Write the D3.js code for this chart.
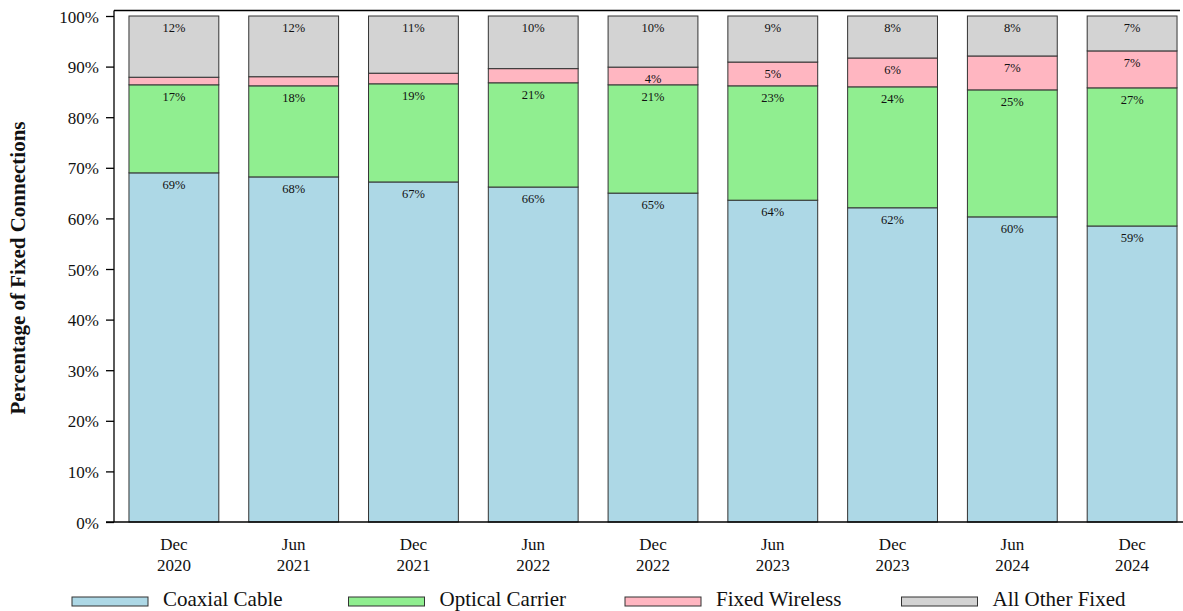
<!DOCTYPE html>
<html>
<head>
<meta charset="utf-8">
<script src="https://cdn.jsdelivr.net/npm/d3@7"></script>
<style>
  html, body { margin: 0; padding: 0; background: #fff; }
  svg { display: block; }
  text { font-family: "Liberation Serif", "Times New Roman", serif; fill: #111; }
</style>
</head>
<body>
<svg id="chart" width="1183" height="611"></svg>
<script>
const categories = ["Dec\n2020", "Jun\n2021", "Dec\n2021", "Jun\n2022", "Dec\n2022", "Jun\n2023", "Dec\n2023", "Jun\n2024", "Dec\n2024"];
const coaxialCable   = [69.0, 68.2, 67.2, 66.2, 65.0, 63.6, 62.1, 60.3, 58.5];
const opticalCarrier = [17.4, 18.0, 19.4, 20.6, 21.4, 22.6, 23.9, 25.1, 27.3];
const fixedWireless  = [1.5, 1.8, 2.1, 2.8, 3.5, 4.7, 5.7, 6.7, 7.3];
const allOtherFixed  = [12.1, 12.0, 11.3, 10.4, 10.1, 9.1, 8.3, 7.9, 6.9];
const seriesNames  = ["Coaxial Cable", "Optical Carrier", "Fixed Wireless", "All Other Fixed"];
const seriesColors = ["#add8e6", "#90ee90", "#ffb6c1", "#d3d3d3"];
const yTicks = [0, 10, 20, 30, 40, 50, 60, 70, 80, 90, 100];

const seriesValues = [coaxialCable, opticalCarrier, fixedWireless, allOtherFixed];
const table = categories.map((c, i) => {
  const row = { cat: c };
  seriesNames.forEach((s, k) => row[s] = seriesValues[k][i]);
  return row;
});

const svg = d3.select("#chart");
const x = d3.scaleBand().domain(categories).range([114, 1192]).paddingInner(0.25).paddingOuter(0.125);
const y = d3.scaleLinear().domain([0, 100]).range([522, 16]);
const color = d3.scaleOrdinal().domain(seriesNames).range(seriesColors);

const stack = d3.stack().keys(seriesNames);
const stacked = stack(table);

// frame top line
svg.append("line").attr("x1", 114).attr("x2", 1180).attr("y1", 10.5).attr("y2", 10.5)
  .attr("stroke", "#000").attr("stroke-width", 1.3);

// bars
const layers = svg.append("g").selectAll("g").data(stacked).join("g")
  .attr("fill", d => color(d.key));
layers.selectAll("rect").data(d => d).join("rect")
  .attr("x", d => x(d.data.cat))
  .attr("y", d => y(d[1]))
  .attr("width", x.bandwidth())
  .attr("height", d => y(d[0]) - y(d[1]))
  .attr("stroke", "#333").attr("stroke-width", 1);

// segment labels
layers.selectAll("text").data(d => d).join("text")
  .filter(d => (d[1] - d[0]) >= 3)
  .attr("x", d => x(d.data.cat) + x.bandwidth() / 2)
  .attr("y", d => y(d[1]) + 16)
  .attr("text-anchor", "middle")
  .attr("font-size", 12.5)
  .text(d => Math.round(d[1] - d[0]) + "%");

// y axis
const yAxis = d3.axisLeft(y).tickValues(yTicks).tickFormat(d => d + "%").tickSize(8).tickPadding(7);
const gy = svg.append("g").attr("transform", "translate(114,0)").call(yAxis);
gy.select(".domain").attr("d", "M0,10.5V522").attr("stroke", "#000").attr("stroke-width", 1.3);
gy.selectAll(".tick line").attr("stroke", "#000").attr("stroke-width", 1.3);
gy.selectAll(".tick text").attr("font-size", 17).attr("font-family", "Liberation Serif").attr("fill", "#111").attr("dy", "0.36em");

// x axis line
svg.append("line").attr("x1", 106).attr("x2", 1183).attr("y1", 522).attr("y2", 522)
  .attr("stroke", "#000").attr("stroke-width", 1.5);

// x tick labels
const xl = svg.append("g").selectAll("text").data(categories).join("text")
  .attr("x", d => x(d) + x.bandwidth() / 2)
  .attr("y", 550)
  .attr("text-anchor", "middle")
  .attr("font-size", 17);
xl.selectAll("tspan").data(d => d.split("\n")).join("tspan")
  .attr("x", function() { return this.parentNode.getAttribute("x"); })
  .attr("dy", (d, i) => i === 0 ? 0 : 21)
  .text(d => d);

// y title
svg.append("text")
  .attr("transform", "translate(25,268) rotate(-90)")
  .attr("text-anchor", "middle")
  .attr("font-size", 21)
  .attr("font-weight", "bold")
  .text("Percentage of Fixed Connections");

// legend
const lg = svg.append("g").selectAll("g").data(seriesNames).join("g")
  .attr("transform", (d, i) => `translate(${72 + i * 276.5},0)`);
lg.append("rect").attr("x", 0).attr("y", 597).attr("width", 76).attr("height", 9)
  .attr("fill", d => color(d)).attr("stroke", "#333").attr("stroke-width", 1);
lg.append("text").attr("x", 91).attr("y", 606).attr("font-size", 21).text(d => d);
</script>
</body>
</html>
